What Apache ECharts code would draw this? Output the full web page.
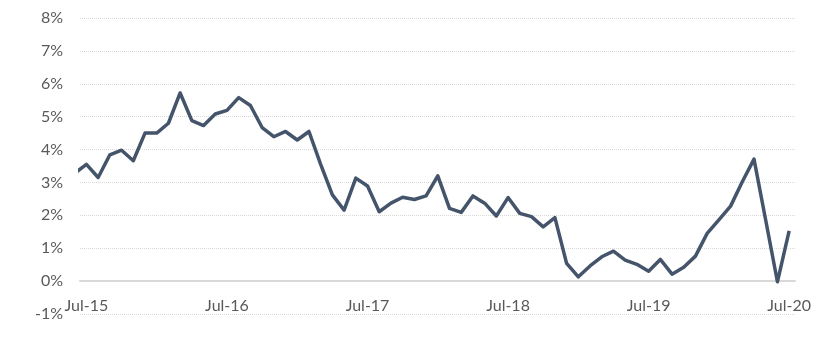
<!DOCTYPE html>
<html>
<head>
<meta charset="utf-8">
<script src="https://cdn.jsdelivr.net/npm/echarts@6/dist/echarts.min.js"></script>
<style>
html,body{margin:0;padding:0;background:#fff;}
#chart{width:838px;height:357px;}
</style>
</head>
<body>
<div id="chart"></div>
<script>
// Months: Jun-15 (partly clipped at left edge) through Jul-20
var months = ['Jun-15','Jul-15','Aug-15','Sep-15','Oct-15','Nov-15','Dec-15',
  'Jan-16','Feb-16','Mar-16','Apr-16','May-16','Jun-16','Jul-16','Aug-16','Sep-16','Oct-16','Nov-16','Dec-16',
  'Jan-17','Feb-17','Mar-17','Apr-17','May-17','Jun-17','Jul-17','Aug-17','Sep-17','Oct-17','Nov-17','Dec-17',
  'Jan-18','Feb-18','Mar-18','Apr-18','May-18','Jun-18','Jul-18','Aug-18','Sep-18','Oct-18','Nov-18','Dec-18',
  'Jan-19','Feb-19','Mar-19','Apr-19','May-19','Jun-19','Jul-19','Aug-19','Sep-19','Oct-19','Nov-19','Dec-19',
  'Jan-20','Feb-20','Mar-20','Apr-20','May-20','Jun-20','Jul-20'];
var values = [3.28,3.55,3.15,3.84,3.98,3.66,4.50,
  4.50,4.80,5.72,4.88,4.73,5.08,5.19,5.58,5.34,4.67,4.39,4.55,
  4.29,4.55,3.55,2.62,2.16,3.13,2.89,2.11,2.37,2.55,2.48,2.59,
  3.20,2.21,2.09,2.59,2.37,1.98,2.54,2.06,1.96,1.65,1.93,0.54,
  0.13,0.46,0.74,0.91,0.64,0.51,0.30,0.66,0.21,0.42,0.76,1.45,
  1.86,2.28,3.02,3.71,1.85,-0.02,1.53];
var tickLabels = ['Jul-15','Jul-16','Jul-17','Jul-18','Jul-19','Jul-20'];
var yTicks = [-1,0,1,2,3,4,5,6,7,8];

// x position = months since Jul-15
var seriesData = values.map(function(v,i){ return [i-1, v]; });
var tickPositions = tickLabels.map(function(l){ return months.indexOf(l) - 1; });

var chart = echarts.init(document.getElementById('chart'), null, {renderer:'canvas'});
var font = 'Lato, "Liberation Sans", Arial, sans-serif';
chart.setOption({
  animation:false,
  backgroundColor:'#ffffff',
  grid:{left:80, right:43, top:18, bottom:43, containLabel:false},
  xAxis:{
    type:'value',
    min:-0.55, max:60.5,
    axisLine:{show:true, onZero:true, lineStyle:{color:'#d9d9d9', width:2}},
    axisTick:{show:false},
    splitLine:{show:false},
    axisLabel:{
      customValues: tickPositions,
      margin:-16,
      color:'#595959', fontSize:16, fontFamily:font,
      formatter:function(v){ return months[Math.round(v)+1]; }
    }
  },
  yAxis:{
    type:'value',
    min:yTicks[0], max:yTicks[yTicks.length-1], interval:1,
    axisLine:{show:false},
    axisTick:{show:false},
    splitLine:{show:true, lineStyle:{color:'#d9d9d9', type:'dotted', width:1}},
    axisLabel:{margin:17, color:'#595959', fontSize:16, fontFamily:font,
      formatter:function(v){ return v + '%'; }}
  },
  series:[{
    type:'line',
    data:seriesData,
    showSymbol:false,
    clip:true,
    lineStyle:{color:'#44546a', width:3.5, join:'round'},
    itemStyle:{color:'#44546a'}
  }]
});
</script>
</body>
</html>
